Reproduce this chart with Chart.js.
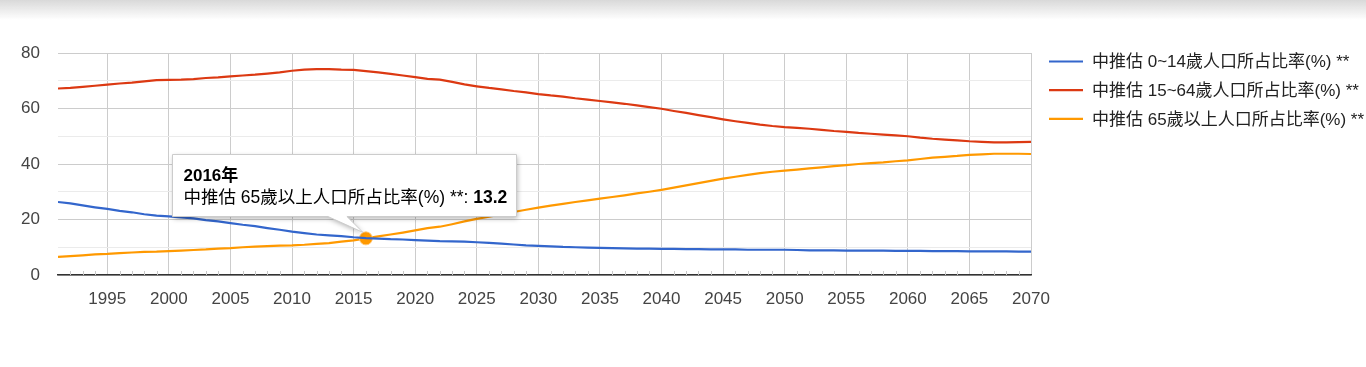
<!DOCTYPE html>
<html>
<head>
<meta charset="utf-8">
<script src="https://cdn.jsdelivr.net/npm/chart.js@4.4.1/dist/chart.umd.min.js"></script>
<style>
html,body{margin:0;padding:0;background:#fff;overflow:hidden}
#wrap{position:relative;width:1366px;height:367px}
#sombra{position:absolute;left:0;top:0;width:1366px;height:20px;background:linear-gradient(#d9d9d9,rgba(255,255,255,0));pointer-events:none}
</style>
</head>
<body>
<div id="wrap">
<canvas id="graficoPop" width="1366" height="367"></canvas>
<div id="sombra"></div>
</div>
<script>
// anos (eixo x)
const anos=[1991,1992,1993,1994,1995,1996,1997,1998,1999,2000,
2001,2002,2003,2004,2005,2006,2007,2008,2009,2010,
2011,2012,2013,2014,2015,2016,2017,2018,2019,2020,
2021,2022,2023,2024,2025,2026,2027,2028,2029,2030,
2031,2032,2033,2034,2035,2036,2037,2038,2039,2040,
2041,2042,2043,2044,2045,2046,2047,2048,2049,2050,
2051,2052,2053,2054,2055,2056,2057,2058,2059,2060,
2061,2062,2063,2064,2065,2066,2067,2068,2069,2070]

const nomes=["中推估 0~14歲人口所占比率(%) **","中推估 15~64歲人口所占比率(%) **","中推估 65歲以上人口所占比率(%) **"]
const cores=["#3366cc","#dc3912","#ff9900"]

const jovens=[26.3,25.8,25.1,24.4,23.8,23.1,22.6,21.9,21.4,21.1,
20.8,20.4,19.8,19.3,18.7,18.1,17.6,16.9,16.3,15.6,
15.1,14.6,14.3,14.0,13.6,13.3,13.1,12.9,12.8,12.6,
12.4,12.2,12.1,12.0,11.8,11.6,11.3,11.0,10.7,10.5,
10.3,10.1,10.0,9.9,9.8,9.7,9.6,9.5,9.5,9.4,
9.4,9.3,9.3,9.2,9.2,9.2,9.1,9.1,9.1,9.1,
9.0,8.9,8.9,8.9,8.8,8.8,8.8,8.8,8.7,8.7,
8.7,8.6,8.6,8.6,8.5,8.5,8.5,8.5,8.4,8.4]

const adultos=[67.2,67.4,67.8,68.2,68.6,69.0,69.3,69.8,70.2,70.3,
70.4,70.6,71.0,71.2,71.6,71.9,72.2,72.6,73.0,73.6,
74.0,74.2,74.2,74.0,73.9,73.5,73.0,72.5,71.9,71.3,
70.7,70.4,69.6,68.7,68.0,67.4,66.9,66.3,65.8,65.2,
64.7,64.3,63.7,63.2,62.7,62.2,61.7,61.1,60.5,59.9,
59.1,58.4,57.6,56.9,56.1,55.4,54.8,54.2,53.7,53.3,
53.0,52.7,52.3,51.9,51.6,51.2,50.9,50.6,50.3,50.0,
49.5,49.1,48.8,48.5,48.2,48.0,47.8,47.8,47.9,48.0]

const idosos=[6.5,6.8,7.1,7.4,7.6,7.9,8.1,8.3,8.4,8.6,
8.8,9.0,9.2,9.5,9.7,10.0,10.2,10.4,10.6,10.7,
10.9,11.2,11.5,12.0,12.5,13.2,13.9,14.6,15.3,16.1,
16.9,17.4,18.3,19.3,20.2,21.0,21.8,22.7,23.5,24.3,
25.0,25.6,26.3,26.9,27.5,28.1,28.7,29.4,30.0,30.7,
31.5,32.3,33.1,33.9,34.7,35.4,36.1,36.7,37.2,37.6,
38.0,38.4,38.8,39.2,39.6,40.0,40.3,40.6,41.0,41.3,
41.8,42.3,42.6,42.9,43.3,43.5,43.7,43.7,43.7,43.6]

const ticksX=[1995,2000,2005,2010,2015,2020,2025,2030,2035,2040,2045,2050,2055,2060,2065,2070]
const ticksY=[0,20,40,60,80]

// ponto destacado no tooltip
const anoDestaque=2016
const serieDestaque=2

const fonte='"Liberation Sans", Arial, "Noto Sans CJK TC", sans-serif'

const series=[jovens,adultos,idosos]
const iDest=anos.indexOf(anoDestaque)

const datasets=series.map((s,k)=>({
label:nomes[k],
data:anos.map((a,i)=>({x:a,y:s[i]})),
borderColor:cores[k],
backgroundColor:cores[k],
borderWidth:2.2,
tension:0,
pointRadius:k===serieDestaque ? anos.map((a,i)=>i===iDest?6.5:0) : 0,
pointBorderWidth:1,
pointBorderColor:"rgba(255,200,120,0.9)"
}))

// legenda, tracinhos menores e tooltip fixo
const extras={
id:"extras",
afterDraw(chart){
const ctx=chart.ctx
const xs=chart.scales.x
const area=chart.chartArea

// tracinhos anuais no eixo
ctx.save()
ctx.strokeStyle="#c8c8c8"
ctx.lineWidth=1
anos.forEach(a=>{
if(a%5===0||a===anos[0]) return
const px=Math.round(xs.getPixelForValue(a))+0.5
ctx.beginPath()
ctx.moveTo(px,area.bottom)
ctx.lineTo(px,area.bottom-4)
ctx.stroke()
})
ctx.restore()

// legenda
ctx.save()
ctx.font="17px "+fonte
ctx.textBaseline="middle"
chart.data.datasets.forEach((d,k)=>{
const y=61.5+k*28.7
ctx.strokeStyle=d.borderColor
ctx.lineWidth=2.2
ctx.beginPath()
ctx.moveTo(1049,y)
ctx.lineTo(1083,y)
ctx.stroke()
ctx.fillStyle="#222"
ctx.fillText(d.label,1092,y+1)
})
ctx.restore()

// tooltip
const pt=chart.getDatasetMeta(serieDestaque).data[iDest]
if(!pt) return
const px=pt.x,py=pt.y
const bx=Math.round(px-194)+0.5,by=Math.round(py-84)+0.5,bw=344,bh=62
ctx.save()
ctx.shadowColor="rgba(0,0,0,0.3)"
ctx.shadowBlur=5
ctx.shadowOffsetX=1
ctx.shadowOffsetY=2
ctx.beginPath()
ctx.moveTo(bx,by)
ctx.lineTo(bx+bw,by)
ctx.lineTo(bx+bw,by+bh)
ctx.lineTo(px-19,by+bh)
ctx.lineTo(px-3,py-6)
ctx.lineTo(px-38,by+bh)
ctx.lineTo(bx,by+bh)
ctx.closePath()
ctx.fillStyle="#fff"
ctx.fill()
ctx.shadowColor="transparent"
ctx.strokeStyle="#cccccc"
ctx.lineWidth=1
ctx.stroke()
ctx.fillStyle="#000"
ctx.textBaseline="alphabetic"
ctx.font="bold 17px "+fonte
ctx.fillText(anoDestaque+"年",bx+11,by+26)
ctx.font="17.5px "+fonte
const corpo=nomes[serieDestaque]+": "
ctx.fillText(corpo,bx+11,by+48)
const w=ctx.measureText(corpo).width
ctx.font="bold 17.5px "+fonte
ctx.fillText(String(series[serieDestaque][iDest]),bx+11+w,by+48)
ctx.restore()
}
}

const grafico=new Chart(document.getElementById("graficoPop"),{
type:"line",
data:{datasets:datasets},
options:{
responsive:false,
animation:false,
events:[],
layout:{padding:{left:0,top:53,right:335,bottom:0}},
plugins:{
legend:{display:false},
tooltip:{enabled:false}
},
scales:{
x:{
type:"linear",
min:anos[0],
max:anos[anos.length-1],
afterBuildTicks:s=>{s.ticks=ticksX.map(v=>({value:v}))},
afterFit:s=>{s.height=92},
grid:{color:"#cccccc",drawTicks:false},
border:{color:"#333",width:1.5},
ticks:{color:"#444",padding:14,maxRotation:0,autoSkip:false,font:{size:17,family:fonte},callback:v=>String(v)}
},
y:{
min:0,
max:80,
afterBuildTicks:s=>{s.ticks=[0,10,20,30,40,50,60,70,80].map(v=>({value:v}))},
afterFit:s=>{s.width=58},
grid:{drawTicks:false,color:c=>ticksY.includes(c.tick.value)?"#cccccc":"#ebebeb"},
border:{display:false},
ticks:{color:"#444",padding:18,font:{size:17,family:fonte},callback:v=>ticksY.includes(v)?String(v):""}
}
}
},
plugins:[extras]
})
</script>
</body>
</html>
